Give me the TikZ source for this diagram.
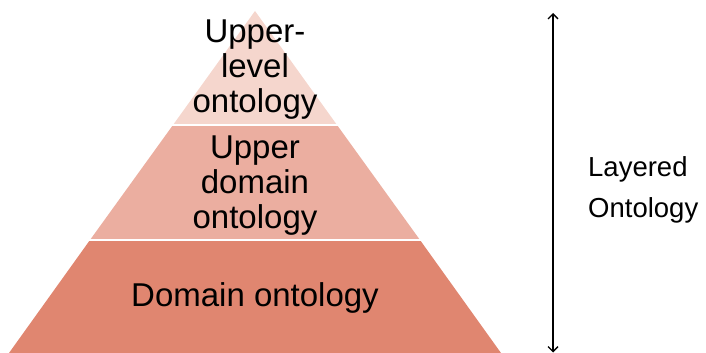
\documentclass[tikz,border=0pt]{standalone}
\usepackage{fontspec}
\setmainfont{Liberation Sans}
\usepackage{tikz}
\usetikzlibrary{positioning,arrows.meta}

\definecolor{layerTop}{HTML}{F5D6CD}
\definecolor{layerMid}{HTML}{EBAEA0}
\definecolor{layerLow}{HTML}{E08670}

\tikzset{
  layerlabel/.style={inner sep=0pt,align=center,font=\fontsize{33bp}{35bp}\selectfont},
  sidelabel/.style={inner sep=0pt,align=left,font=\fontsize{27.5bp}{41bp}\selectfont},
}

\begin{document}
\begin{tikzpicture}[>={Straight Barb[length=5bp,width=10bp]},line join=bevel,]
%%
\useasboundingbox (0bp,0bp) rectangle (706bp,353bp);
\fill [layerLow] (9bp,0bp) -- (501bp,0bp) -- (420bp,113bp) -- (90bp,113bp) -- cycle;
  \fill [layerMid] (90bp,113bp) -- (420bp,113bp) -- (337bp,228bp) -- (173bp,228bp) -- cycle;
  \fill [layerTop] (173bp,228bp) -- (337bp,228bp) -- (255bp,342bp) -- cycle;
  \draw [white,line width=1.5bp] (80bp,113bp) -- (430bp,113bp);
  \draw [white,line width=1.2bp] (160bp,228bp) -- (350bp,228bp);
  \node (upperlevel) at (255bp,283bp) [layerlabel] {Upper-\\level\\ontology};
  \node (upperdomain) at (255bp,167.5bp) [layerlabel] {Upper\\domain\\ontology};
  \node (domain) at (255bp,46bp) [layerlabel,anchor=base] {Domain ontology};
  \node (layered) at (588bp,196.8bp) [sidelabel,anchor=north west] {Layered\\Ontology};
  \coordinate (spantop) at (553bp,340bp);
  \coordinate (spanbottom) at (553bp,0.5bp);
  \draw [black,line width=1.3bp,<->] (spantop) -- (spanbottom);
%
\end{tikzpicture}
\end{document}
